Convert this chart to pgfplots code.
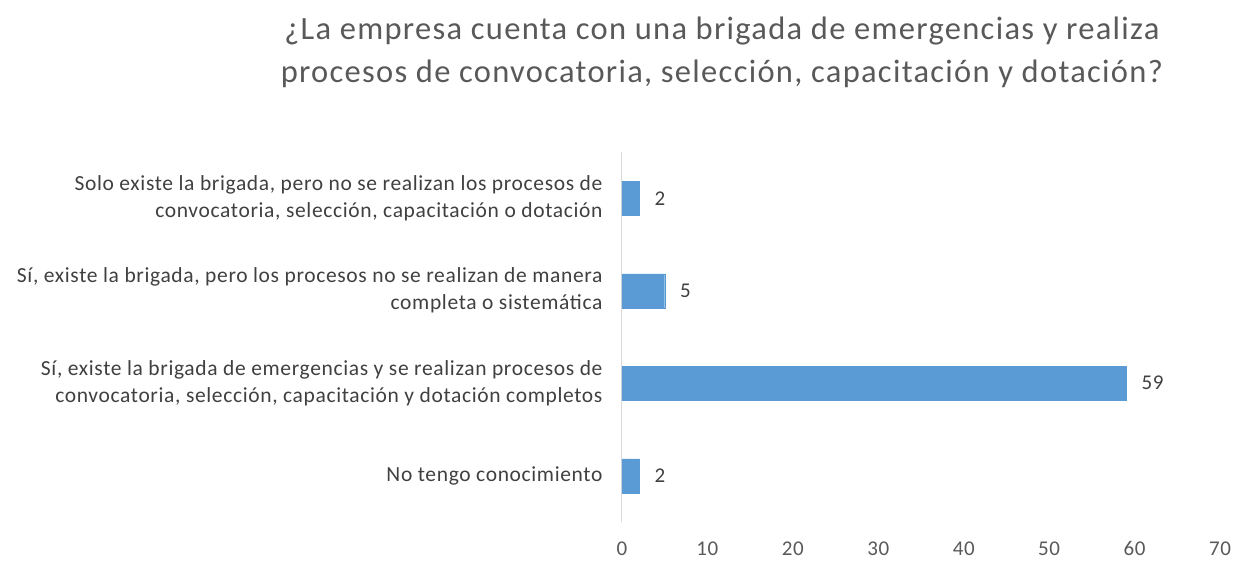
\documentclass[border=0pt]{standalone}
\usepackage{pgfplots}
\pgfplotsset{compat=1.18}
\usepackage{fontspec}
\setmainfont{Carlito}
\newfontfamily\titlefont{Carlito}[LetterSpace=4]
\newfontfamily\lblfont{Carlito}[LetterSpace=3]
\definecolor{barblue}{HTML}{5B9BD5}
\definecolor{txtgray}{HTML}{595959}
\definecolor{lblgray}{HTML}{404040}
\definecolor{axgray}{HTML}{D9D9D9}
\begin{document}
\begin{tikzpicture}
\useasboundingbox (-622pt,-40pt) rectangle (616pt,522pt);
\begin{axis}[
  at={(0pt,0pt)}, anchor=south west,
  scale only axis,
  width=598pt, height=370pt,
  xbar, bar width=34pt,
  xmin=0, xmax=70,
  ymin=-0.5, ymax=3.5,
  xtick={0,10,...,70},
  ytick={0,1,2,3},
  yticklabels={
    {No tengo conocimiento},
    {Sí, existe la brigada de emergencias y se realizan procesos de\\convocatoria, selección, capacitación y dotación completos},
    {Sí, existe la brigada, pero los procesos no se realizan de manera\\completa o sistemática},
    {Solo existe la brigada, pero no se realizan los procesos de\\convocatoria, selección, capacitación o dotación}
  },
  yticklabel style={align=right, font=\lblfont\fontsize{21.5}{27}\selectfont, text=lblgray, xshift=-16pt},
  xticklabel style={font=\lblfont\fontsize{21}{24}\selectfont, text=txtgray, yshift=-16pt},
  /pgf/number format/assume math mode=true,
  axis x line=none,
  axis y line*=left,
  axis line style={axgray, line width=1pt},
  xtick style={draw=none}, ytick style={draw=none},
  hide x axis=false,
  separate axis lines,
  x axis line style={draw=none},
  major tick length=0pt,
  nodes near coords,
  every node near coord/.append style={font=\lblfont\fontsize{21}{24}\selectfont, text=lblgray, xshift=12pt},
  title={¿La empresa cuenta con una brigada de emergencias y realiza\\procesos de convocatoria, selección, capacitación y dotación?},
  title style={at={(rel axis cs:0.167,1.254)}, anchor=center, align=center, font=\titlefont\fontsize{32.5}{43}\selectfont, text=txtgray},
]
\addplot[fill=barblue, draw=barblue] coordinates {(2,0) (59,1) (5,2) (2,3)};
\end{axis}
\end{tikzpicture}
\end{document}
